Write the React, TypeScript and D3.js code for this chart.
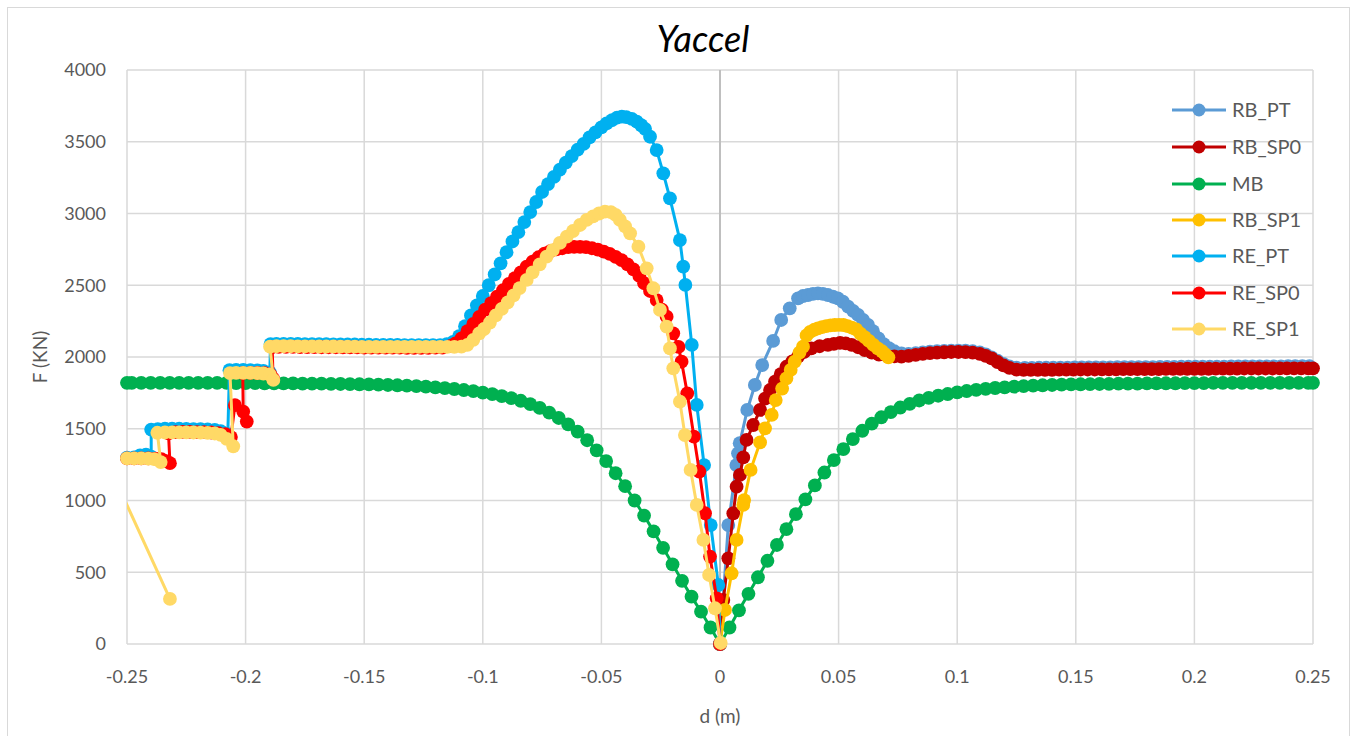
import React from "react";
import * as d3 from "d3";

type P = [number, number] | null;

const xTicks = [-0.25, -0.2, -0.15, -0.1, -0.05, 0, 0.05, 0.1, 0.15, 0.2, 0.25];
const xTickLabels = ["-0.25", "-0.2", "-0.15", "-0.1", "-0.05", "0", "0.05", "0.1", "0.15", "0.2", "0.25"];
const yTicks = [0, 500, 1000, 1500, 2000, 2500, 3000, 3500, 4000];

const seriesNames = ["RB_PT", "RB_SP0", "MB", "RB_SP1", "RE_PT", "RE_SP0", "RE_SP1"];
const seriesColors = ["#5B9BD5", "#C00000", "#00B050", "#FFC000", "#00B0F0", "#FF0000", "#FFD966"];

const RB_PT: P[] = [
  [0, 0], [0.0035, 829], [0.0069, 1247], [0.0076, 1329], [0.0083, 1399], [0.0115, 1631], [0.0147, 1805],
  [0.0178, 1944], [0.0224, 2112], [0.0258, 2258], [0.0294, 2339], [0.0329, 2409], [0.035, 2425], [0.0371, 2432],
  [0.0392, 2440], [0.0413, 2444], [0.0434, 2440], [0.0455, 2432], [0.0476, 2420], [0.0497, 2409], [0.0518, 2385],
  [0.054, 2351], [0.0561, 2322], [0.0582, 2293], [0.0603, 2258], [0.0624, 2223], [0.0645, 2180], [0.0668, 2130],
  [0.069, 2090], [0.0712, 2062], [0.0735, 2040], [0.0765, 2025], [0.0795, 2022], [0.0825, 2026], [0.0855, 2032],
  [0.0885, 2037], [0.0915, 2040], [0.0945, 2043], [0.0975, 2045], [0.1005, 2045], [0.1035, 2044], [0.1065, 2040],
  [0.1095, 2032], [0.112, 2018], [0.1145, 1998], [0.117, 1975], [0.1195, 1952], [0.122, 1935], [0.125, 1925],
  [0.1285, 1924], [0.1315, 1924], [0.1345, 1925], [0.1375, 1925], [0.1405, 1926], [0.1435, 1926], [0.1465, 1926],
  [0.1495, 1927], [0.1525, 1927], [0.1555, 1927], [0.1585, 1928], [0.1615, 1928], [0.1645, 1928], [0.1675, 1929],
  [0.1705, 1929], [0.1735, 1929], [0.1765, 1930], [0.1795, 1930], [0.1825, 1930], [0.1855, 1931], [0.1885, 1931],
  [0.1915, 1931], [0.1945, 1932], [0.1975, 1932], [0.2005, 1932], [0.2035, 1933], [0.2065, 1933], [0.2095, 1933],
  [0.2125, 1933], [0.2155, 1934], [0.2185, 1934], [0.2215, 1934], [0.2245, 1934], [0.2275, 1935], [0.2305, 1935],
  [0.2335, 1935], [0.2365, 1935], [0.2395, 1936], [0.2425, 1936], [0.2455, 1936], [0.2485, 1936],
];

const RB_SP0: P[] = [
  [0, 0], [0.0014, 307], [0.0035, 597], [0.0056, 911], [0.007, 1096], [0.0084, 1178], [0.0098, 1300],
  [0.0112, 1422], [0.014, 1526], [0.0169, 1631], [0.019, 1710], [0.0211, 1770], [0.0232, 1828], [0.0256, 1880],
  [0.028, 1932], [0.0305, 1970], [0.0329, 2002], [0.0355, 2035], [0.0385, 2060], [0.042, 2075], [0.0455, 2084],
  [0.048, 2092], [0.0506, 2098], [0.053, 2095], [0.0555, 2085], [0.0582, 2068], [0.061, 2048], [0.064, 2030],
  [0.067, 2016], [0.0703, 2010], [0.0735, 2005], [0.0765, 2003], [0.0795, 2008], [0.0825, 2015], [0.0855, 2022],
  [0.0885, 2027], [0.0915, 2030], [0.0945, 2033], [0.0975, 2035], [0.1005, 2035], [0.1035, 2034], [0.1065, 2030],
  [0.1095, 2022], [0.112, 2008], [0.1145, 1990], [0.117, 1965], [0.1195, 1942], [0.122, 1924], [0.125, 1912],
  [0.128, 1910], [0.131, 1910], [0.134, 1911], [0.137, 1911], [0.14, 1911], [0.143, 1912], [0.146, 1912],
  [0.149, 1912], [0.152, 1913], [0.155, 1913], [0.158, 1913], [0.161, 1914], [0.164, 1914], [0.167, 1914],
  [0.17, 1915], [0.173, 1915], [0.176, 1915], [0.179, 1916], [0.182, 1916], [0.185, 1916], [0.188, 1917],
  [0.191, 1917], [0.194, 1917], [0.197, 1918], [0.2, 1918], [0.203, 1918], [0.206, 1918], [0.209, 1919],
  [0.212, 1919], [0.215, 1919], [0.218, 1919], [0.221, 1920], [0.224, 1920], [0.227, 1920], [0.23, 1920],
  [0.233, 1920], [0.236, 1921], [0.239, 1921], [0.242, 1921], [0.245, 1921], [0.248, 1921], [0.25, 1921],
];

const MB: P[] = [
  [-0.25, 1820], [-0.248, 1820], [-0.244, 1820], [-0.24, 1820], [-0.236, 1820], [-0.232, 1820], [-0.228, 1820],
  [-0.224, 1820], [-0.22, 1819], [-0.216, 1819], [-0.212, 1819], [-0.208, 1819], [-0.204, 1818], [-0.2, 1818],
  [-0.196, 1818], [-0.192, 1817], [-0.188, 1817], [-0.184, 1816], [-0.18, 1816], [-0.176, 1815], [-0.172, 1815],
  [-0.168, 1814], [-0.164, 1813], [-0.16, 1812], [-0.156, 1811], [-0.152, 1810], [-0.148, 1809], [-0.144, 1807],
  [-0.14, 1805], [-0.136, 1803], [-0.132, 1800], [-0.128, 1797], [-0.124, 1793], [-0.12, 1788], [-0.116, 1783],
  [-0.112, 1777], [-0.108, 1770], [-0.104, 1762], [-0.1, 1752], [-0.096, 1741], [-0.092, 1728], [-0.088, 1713],
  [-0.084, 1695], [-0.08, 1672], [-0.076, 1645], [-0.072, 1612], [-0.068, 1575], [-0.064, 1530], [-0.06, 1480],
  [-0.056, 1420], [-0.052, 1350], [-0.048, 1275], [-0.044, 1190], [-0.04, 1100], [-0.036, 1000], [-0.032, 895],
  [-0.028, 785], [-0.024, 670], [-0.02, 555], [-0.016, 440], [-0.012, 330], [-0.008, 225], [-0.004, 115],
  [0, 0],
  [0.004, 115], [0.008, 235], [0.012, 350], [0.016, 465], [0.02, 580], [0.024, 690], [0.028, 800], [0.032, 905],
  [0.036, 1008], [0.04, 1105], [0.044, 1195], [0.048, 1282], [0.052, 1358], [0.056, 1428], [0.06, 1486],
  [0.064, 1536], [0.068, 1580], [0.072, 1616], [0.076, 1648], [0.08, 1674], [0.084, 1697], [0.088, 1715],
  [0.092, 1730], [0.096, 1742], [0.1, 1753], [0.104, 1763], [0.108, 1771], [0.112, 1778], [0.116, 1784],
  [0.12, 1789], [0.124, 1793], [0.128, 1797], [0.132, 1800], [0.136, 1803], [0.14, 1805], [0.144, 1807],
  [0.148, 1809], [0.152, 1810], [0.156, 1811], [0.16, 1812], [0.164, 1813], [0.168, 1814], [0.172, 1815],
  [0.176, 1815], [0.18, 1816], [0.184, 1816], [0.188, 1817], [0.192, 1817], [0.196, 1818], [0.2, 1818],
  [0.204, 1818], [0.208, 1819], [0.212, 1819], [0.216, 1819], [0.22, 1819], [0.224, 1820], [0.228, 1820],
  [0.232, 1820], [0.236, 1820], [0.24, 1820], [0.244, 1820], [0.248, 1820], [0.25, 1820],
];

const RB_SP1: P[] = [
  [0, 0], [0.0021, 237], [0.0049, 493], [0.007, 725], [0.0098, 969], [0.0102, 1003], [0.0129, 1213],
  [0.0169, 1405], [0.019, 1503], [0.0218, 1596], [0.0235, 1700], [0.0262, 1780], [0.028, 1851], [0.0298, 1910],
  [0.0315, 1967], [0.0335, 2030], [0.035, 2072], [0.0365, 2150], [0.038, 2175], [0.0398, 2190], [0.0413, 2200],
  [0.043, 2208], [0.0448, 2215], [0.0466, 2220], [0.0484, 2223], [0.0502, 2224], [0.052, 2223], [0.0538, 2215],
  [0.0556, 2205], [0.0574, 2192], [0.0592, 2162], [0.061, 2138], [0.0628, 2112], [0.0647, 2084], [0.0665, 2060],
  [0.0683, 2040], [0.0697, 2018], [0.071, 1998],
];

const RE_PT: P[] = [
  [-0.25, 1298], [-0.247, 1300], [-0.2445, 1315], [-0.242, 1320], [-0.2398, 1305],
  [-0.2398, 1494], [-0.237, 1498], [-0.234, 1500], [-0.231, 1500], [-0.228, 1500], [-0.225, 1499], [-0.222, 1498],
  [-0.219, 1497], [-0.216, 1495], [-0.213, 1492], [-0.2105, 1484], [-0.2075, 1462],
  [-0.2068, 1908], [-0.204, 1910], [-0.201, 1910], [-0.198, 1909], [-0.195, 1907], [-0.1925, 1903], [-0.1898, 1892],
  [-0.1895, 2090], [-0.187, 2092], [-0.184, 2092], [-0.181, 2091], [-0.178, 2091], [-0.175, 2090], [-0.172, 2090],
  [-0.169, 2089], [-0.166, 2089], [-0.163, 2088], [-0.16, 2088], [-0.157, 2087], [-0.154, 2087], [-0.151, 2086],
  [-0.148, 2086], [-0.145, 2085], [-0.142, 2085], [-0.139, 2084], [-0.136, 2084], [-0.133, 2083], [-0.13, 2083],
  [-0.127, 2082], [-0.124, 2082], [-0.121, 2082], [-0.118, 2083], [-0.1152, 2090],
  [-0.1125, 2105], [-0.11, 2145], [-0.1075, 2215], [-0.105, 2290], [-0.1025, 2360], [-0.1, 2425], [-0.0975, 2500],
  [-0.095, 2575], [-0.0925, 2653], [-0.09, 2730], [-0.0875, 2805], [-0.085, 2870], [-0.0825, 2940], [-0.08, 3010],
  [-0.0775, 3080], [-0.075, 3150], [-0.0725, 3205], [-0.07, 3255], [-0.0675, 3305], [-0.065, 3355], [-0.0625, 3400],
  [-0.06, 3445], [-0.0575, 3485], [-0.055, 3530], [-0.0525, 3565], [-0.05, 3600], [-0.0478, 3628], [-0.0455, 3650],
  [-0.0434, 3668], [-0.0414, 3675], [-0.0395, 3672], [-0.0372, 3660], [-0.0351, 3640], [-0.0332, 3615],
  [-0.0316, 3590], [-0.0295, 3535], [-0.0267, 3442], [-0.0239, 3280], [-0.0211, 3106], [-0.0169, 2815],
  [-0.0155, 2630], [-0.0146, 2502], [-0.0119, 2084], [-0.0098, 1666], [-0.0067, 1247], [-0.0039, 829],
  [-0.0007, 411], [0, 0],
];

const RE_SP0: P[] = [
  [-0.25, 1294], [-0.247, 1294], [-0.244, 1294], [-0.241, 1293], [-0.238, 1292], [-0.2355, 1288], [-0.2335, 1275],
  [-0.2319, 1260],
  [-0.2325, 1468], [-0.2295, 1476], [-0.2265, 1478], [-0.2235, 1478], [-0.2205, 1477], [-0.2175, 1476],
  [-0.2145, 1474], [-0.2115, 1470], [-0.2085, 1462], [-0.2062, 1442],
  [-0.2045, 1665], [-0.1995, 1550], [-0.201, 1620], [-0.2012, 1888], [-0.198, 1890], [-0.195, 1889], [-0.192, 1887],
  [-0.1895, 1878], [-0.1884, 1850],
  [-0.1888, 2068], [-0.186, 2070], [-0.183, 2070], [-0.18, 2070], [-0.177, 2069], [-0.174, 2069], [-0.171, 2069],
  [-0.168, 2068], [-0.165, 2068], [-0.162, 2068], [-0.159, 2067], [-0.156, 2067], [-0.153, 2067], [-0.15, 2066],
  [-0.147, 2066], [-0.144, 2066], [-0.141, 2065], [-0.138, 2065], [-0.135, 2065], [-0.132, 2064], [-0.129, 2064],
  [-0.126, 2064], [-0.123, 2064], [-0.12, 2065], [-0.117, 2066],
  [-0.1135, 2078], [-0.1115, 2095], [-0.109, 2130], [-0.1065, 2180], [-0.104, 2230], [-0.1015, 2280],
  [-0.099, 2330], [-0.0965, 2375], [-0.094, 2420], [-0.0915, 2465], [-0.089, 2510], [-0.0865, 2550],
  [-0.084, 2590], [-0.0815, 2630], [-0.079, 2665], [-0.0765, 2695], [-0.074, 2720], [-0.0715, 2738],
  [-0.069, 2750], [-0.0665, 2758], [-0.064, 2765], [-0.0615, 2768], [-0.059, 2768], [-0.0565, 2765],
  [-0.054, 2758], [-0.0515, 2748], [-0.049, 2735], [-0.0465, 2718], [-0.044, 2698], [-0.0415, 2675],
  [-0.039, 2645], [-0.0365, 2610], [-0.034, 2565], [-0.032, 2514], [-0.0295, 2460], [-0.0267, 2397],
  [-0.0245, 2330], [-0.0225, 2281], [-0.0197, 2165], [-0.0175, 2070], [-0.0162, 1967], [-0.0138, 1747],
  [-0.011, 1445], [-0.0087, 1202], [-0.0063, 911], [-0.0042, 609], [-0.0014, 318], [0, 0],
];

const RE_SP1: P[] = [
  [-0.26, 1330], [-0.2319, 314], null,
  [-0.25, 1294], [-0.247, 1294], [-0.244, 1293], [-0.241, 1292], [-0.2385, 1288], [-0.2358, 1268],
  [-0.2372, 1472], [-0.234, 1474], [-0.231, 1475], [-0.228, 1475], [-0.225, 1475], [-0.222, 1474], [-0.219, 1473],
  [-0.216, 1471], [-0.213, 1467], [-0.2105, 1458], [-0.208, 1430], [-0.2052, 1378],
  [-0.2066, 1888], [-0.204, 1890], [-0.201, 1890], [-0.198, 1889], [-0.195, 1888], [-0.1925, 1885],
  [-0.1898, 1878], [-0.1883, 1840],
  [-0.1897, 2072], [-0.187, 2075], [-0.184, 2075], [-0.181, 2075], [-0.178, 2074], [-0.175, 2074], [-0.172, 2074],
  [-0.169, 2073], [-0.166, 2073], [-0.163, 2073], [-0.16, 2072], [-0.157, 2072], [-0.154, 2072], [-0.151, 2071],
  [-0.148, 2071], [-0.145, 2071], [-0.142, 2070], [-0.139, 2070], [-0.136, 2070], [-0.133, 2070], [-0.13, 2070],
  [-0.127, 2070], [-0.124, 2070], [-0.121, 2070], [-0.118, 2070], [-0.115, 2070], [-0.112, 2071], [-0.109, 2072],
  [-0.1065, 2085], [-0.104, 2120], [-0.1015, 2165], [-0.0995, 2195], [-0.097, 2240], [-0.0945, 2290],
  [-0.092, 2335], [-0.0895, 2380], [-0.087, 2430], [-0.0845, 2480], [-0.0815, 2537], [-0.079, 2590],
  [-0.076, 2645], [-0.0731, 2700], [-0.0705, 2745], [-0.0675, 2795], [-0.0646, 2839], [-0.062, 2878],
  [-0.059, 2920], [-0.0562, 2955], [-0.0535, 2980], [-0.051, 3000], [-0.0485, 3013], [-0.046, 3010],
  [-0.044, 2990], [-0.0422, 2955], [-0.04, 2910], [-0.0379, 2862], [-0.0344, 2769], [-0.0309, 2618],
  [-0.0281, 2479], [-0.0253, 2328], [-0.0225, 2212], [-0.0211, 2060], [-0.0197, 1921], [-0.0169, 1689],
  [-0.0148, 1456], [-0.0124, 1213], [-0.0098, 969], [-0.007, 725], [-0.0046, 481], [-0.0021, 249], [0.0003, 7],
];

const seriesData: P[][] = [RB_PT, RB_SP0, MB, RB_SP1, RE_PT, RE_SP0, RE_SP1];

const W = 1357;
const H = 736;
const M = { left: 127, right: 1313, top: 70, bottom: 644 };
const FONT = "Lato, 'Open Sans', sans-serif";

export default function App() {
  const x = d3.scaleLinear().domain([-0.25, 0.25]).range([M.left, M.right]);
  const y = d3.scaleLinear().domain([0, 4000]).range([M.bottom, M.top]);
  const line = d3
    .line<P>()
    .defined((d) => d !== null)
    .x((d) => x((d as [number, number])[0]))
    .y((d) => y((d as [number, number])[1]));
  const r = 6.9;
  const legendY = [110, 147, 184, 220, 256, 293, 329];

  return (
    <svg
      width={W}
      height={H}
      style={{ position: "absolute", left: 0, top: 0, background: "#fff" }}
      fontFamily={FONT}
    >
      <defs>
        <clipPath id="plotclip">
          <rect x={M.left} y={M.top} width={M.right - M.left} height={M.bottom - M.top} />
        </clipPath>
      </defs>
      <rect x={7.5} y={7.5} width={1342} height={740} fill="#fff" stroke="#D9D9D9" strokeWidth={1} />
      {yTicks.map((t) => (
        <line key={"gy" + t} x1={M.left} x2={M.right} y1={y(t)} y2={y(t)} stroke="#D9D9D9" strokeWidth={1.5} />
      ))}
      {xTicks.map((t) => (
        <line
          key={"gx" + t}
          x1={x(t)}
          x2={x(t)}
          y1={M.top}
          y2={M.bottom}
          stroke={t === 0 ? "#BFBFBF" : "#D9D9D9"}
          strokeWidth={t === 0 ? 2 : 1.5}
        />
      ))}
      {yTicks.map((t) => (
        <text key={"ty" + t} x={106} y={y(t)} dy="0.35em" textAnchor="end" fontSize={18} fill="#595959">
          {t}
        </text>
      ))}
      {xTicks.map((t, i) => (
        <text key={"tx" + t} x={x(t)} y={683} textAnchor="middle" fontSize={18} fill="#595959">
          {xTickLabels[i]}
        </text>
      ))}
      {seriesData.map((data, i) => (
        <g key={seriesNames[i]}>
          <path
            d={line(data) || ""}
            fill="none"
            stroke={seriesColors[i]}
            strokeWidth={3}
            strokeLinejoin="round"
            clipPath="url(#plotclip)"
          />
          {data
            .filter((d): d is [number, number] => d !== null && d[0] >= -0.25 && d[0] <= 0.25)
            .map((d, j) => (
              <circle key={j} cx={x(d[0])} cy={y(d[1])} r={r} fill={seriesColors[i]} />
            ))}
        </g>
      ))}
      <text x={703} y={52} textAnchor="middle" fontSize={36} fontStyle="italic" fill="#000">
        Yaccel
      </text>
      <text
        transform={`translate(40,${(M.top + M.bottom) / 2}) rotate(-90)`}
        textAnchor="middle"
        dy="0.35em"
        fontSize={19}
        fill="#595959"
      >
        F (KN)
      </text>
      <text x={(M.left + M.right) / 2} y={723} textAnchor="middle" fontSize={19} fill="#595959">
        d (m)
      </text>
      {seriesNames.map((n, i) => (
        <g key={"lg" + n}>
          <line x1={1172} x2={1226} y1={legendY[i]} y2={legendY[i]} stroke={seriesColors[i]} strokeWidth={3} />
          <circle cx={1199} cy={legendY[i]} r={6.5} fill={seriesColors[i]} />
          <text x={1232} y={legendY[i]} dy="0.35em" fontSize={20} fill="#595959">
            {n}
          </text>
        </g>
      ))}
    </svg>
  );
}
